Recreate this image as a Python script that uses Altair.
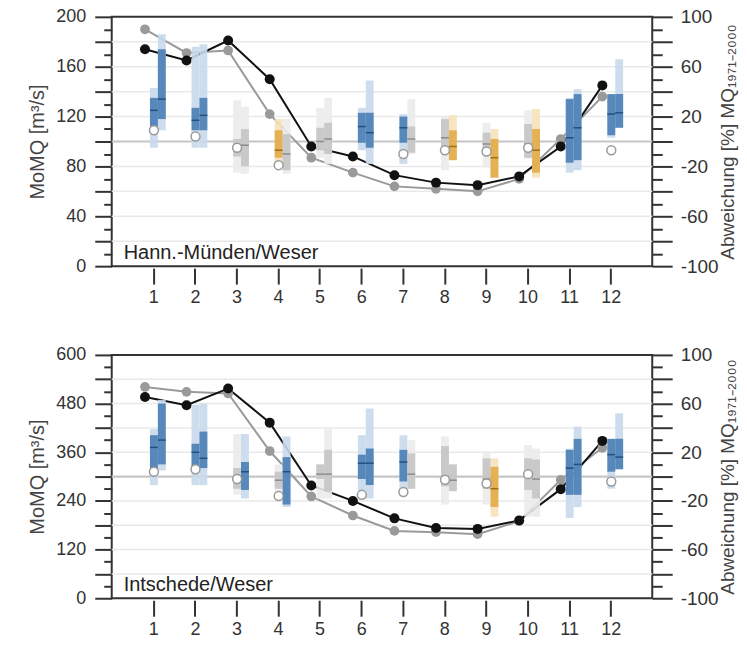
import altair as alt
import pandas as pd

months = list(range(1, 13))

# ---------- Hann.-Münden/Weser (MQ 1971-2000 = 100 m³/s)
hm_name = "Hann.-Münden/Weser"
hm_mq = 100
hm_ymax = 200
hm_step = 20
hm_black = [174, 165, 181, 150, 96, 88, 73, 67, 65, 72, 96, 145]
hm_gray = [190, 171, 173, 122, 87, 75, 64, 62, 60, 70, 102, 136]
hm_open = [109, 104, 95, 81, None, None, 90, 93, 92, 95, None, 93]
# boxes in % deviation: (low, q1, median, q3, high)
hm_left = [(-5, 12, 25, 35, 43), (-5, 9, 17, 27, 76), (-25, -12, -5, 2, 33),
           (-21, -13, -7, 9, 18), (-13, -7, 0, 11, 27), (-7, -1, 12, 23, 27),
           (-18, -1, 11, 20, 22), (-23, -5, 3, 18, 20), (-21, -10, -2, 7, 15),
           (-14, -13, -2, 14, 25), (-25, -17, 3, 34, 35), (3, 5, 22, 38, 38)]
hm_right = [(9, 18, 34, 74, 86), (-5, 9, 21, 35, 78), (-26, -20, -3, 10, 28),
            (-26, -23, -10, 6, 18), (-18, -10, 2, 15, 35), (-18, -5, 7, 23, 49),
            (-10, -9, 2, 12, 34), (-15, -15, -4, 9, 21), (-29, -29, -13, 2, 10),
            (-29, -25, -7, 10, 26), (-23, -15, 11, 38, 42), (11, 11, 23, 38, 66)]
hm_left_sig = ["up", "up", "ns", "down", "ns", "up", "up", "ns", "ns", "ns", "up", "up"]
hm_right_sig = ["up", "up", "ns", "ns", "ns", "up", "ns", "down", "down", "down", "up", "up"]

# ---------- Intschede/Weser (MQ 1971-2000 = 300 m³/s)
in_name = "Intschede/Weser"
in_mq = 300
in_ymax = 600
in_step = 60
in_black = [496, 476, 517, 433, 278, 240, 197, 173, 171, 192, 269, 388]
in_gray = [521, 509, 505, 363, 251, 204, 166, 163, 158, 190, 292, 371]
in_open = [312, 318, 294, 252, None, 255, 262, 292, 283, 306, None, 288]
in_left = [(-7, 2, 24, 34, 39), (-7, 8, 20, 27, 59), (-15, -10, -2, 7, 35),
           (-18, -10, -3, 4, 10), (-18, -2, 2, 10, 10), (-18, -2, 11, 18, 34),
           (-12, -4, 12, 22, 34), (-23, -8, 0, 25, 33), (-23, -10, -2, 15, 20),
           (-33, -11, 2, 15, 26), (-34, -15, 7, 22, 23), (-10, 4, 18, 31, 31)]
in_right = [(5, 10, 30, 60, 63), (-7, 7, 15, 37, 60), (-18, -11, 4, 12, 35),
            (-25, -23, 4, 16, 33), (-18, -12, 2, 22, 39), (-18, -7, 11, 23, 56),
            (-10, -10, 2, 19, 30), (-12, -12, -3, 10, 10), (-33, -25, -10, 8, 15),
            (-33, -18, -2, 14, 23), (-25, -15, 10, 31, 41), (6, 6, 16, 31, 52)]
in_left_sig = ["up", "up", "ns", "ns", "ns", "up", "up", "ns", "ns", "ns", "up", "up"]
in_right_sig = ["up", "up", "up", "up", "ns", "up", "ns", "ns", "down", "ns", "up", "up"]

light_c = {"up": "#c9d9eb", "down": "#f6e1b9", "ns": "#ebebeb"}
dark_c = {"up": "#4a7eb5", "down": "#e2ab48", "ns": "#c4c4c4"}
med_c = {"up": "#24507d", "down": "#9c6f1c", "ns": "#8c8c8c"}

FONT = "Liberation Sans"
W = 542


def panel(name, mq, ymax, step, black, gray, open_, left, right, lsig, rsig, h):
    xs = alt.Scale(domain=[0, 13], nice=False, zero=False)
    ys = alt.Scale(domain=[0, ymax], nice=False, zero=False)
    ps = alt.Scale(domain=[-100, 100], nice=False, zero=False)

    xaxis = alt.Axis(values=months, tickSize=16, offset=2, domain=False, grid=False,
                     tickColor="#333", tickWidth=2, labelFontSize=18, labelPadding=4,
                     labelColor="#333", labelFlush=False, title=None)

    left_axis = alt.Axis(
        values=list(range(0, ymax + 1, step // 2)),
        tickSize={"condition": {"test": f"datum.value % {step} === 0", "value": 17}, "value": 8},
        labelExpr=f"datum.value % {2 * step} === 0 ? datum.label : ''",
        domain=False, grid=False, tickColor="#333", tickWidth=2,
        labelPadding=9, labelFontSize=18, labelColor="#333",
        title="MoMQ [m³/s]", titleFontSize=20, titleFontWeight="normal",
        titleColor="#444", titlePadding=8, orient="left")

    right_axis = alt.Axis(
        values=list(range(-100, 101, 10)),
        tickSize={"condition": {"test": "datum.value % 20 === 0", "value": 20}, "value": 10},
        labelExpr="(datum.value + 100) % 40 === 0 ? toString(datum.value) : ''",
        domain=False, grid=False, tickColor="#333", tickWidth=2,
        labelPadding=8, labelFontSize=19, labelColor="#333",
        title="Abweichung [%] MQ₁₉₇₁₋₂₀₀₀", titleFontSize=19, titleFontWeight="normal",
        titleColor="#444", titlePadding=0, titleAngle=270, titleBaseline="top",
        orient="right")

    line_df = pd.DataFrame({
        "xp": [m - 0.2 for m in months],
        "xo": [m + 0.015 for m in months],
        "black": black, "gray": gray,
        "open": [float("nan") if v is None else v for v in open_],
    })

    rows = []
    for i, m in enumerate(months):
        for off, box, sig in ((0.0, left[i], lsig[i]), (0.19, right[i], rsig[i])):
            lo, q1, md, q3, hi = box
            rows.append({"x0": m - 0.08 + off, "x1": m + 0.11 + off,
                         "lo": lo, "q1": q1, "md": md, "q3": q3, "hi": hi,
                         "cl": light_c[sig], "cd": dark_c[sig], "cm": med_c[sig]})
    box_df = pd.DataFrame(rows)

    grid_vals = list(range(step, ymax, step))
    grid_df = pd.DataFrame({
        "v": grid_vals,
        "c": ["#c6c6c6" if v == mq else "#e9e9e9" for v in grid_vals],
        "w": [2.2 if v == mq else 1.5 for v in grid_vals],
    })

    X = lambda f: alt.X(f, scale=xs, axis=xaxis)

    grid = alt.Chart(grid_df).mark_rule().encode(
        y=alt.Y("v:Q", scale=ys, axis=left_axis),
        color=alt.Color("c:N", scale=None),
        strokeWidth=alt.StrokeWidth("w:Q", scale=None),
    )
    line_g = alt.Chart(line_df).mark_line(color="#9a9a9a", strokeWidth=2).encode(
        x=X("xp:Q"), y=alt.Y("gray:Q", scale=ys, axis=None))
    line_b = alt.Chart(line_df).mark_line(color="#111111", strokeWidth=2).encode(
        x=X("xp:Q"), y=alt.Y("black:Q", scale=ys, axis=None))
    dot_g = alt.Chart(line_df).mark_circle(color="#9a9a9a", opacity=1, size=95).encode(
        x=X("xp:Q"), y=alt.Y("gray:Q", scale=ys, axis=None))
    dot_b = alt.Chart(line_df).mark_circle(color="#111111", opacity=1, size=100).encode(
        x=X("xp:Q"), y=alt.Y("black:Q", scale=ys, axis=None))

    bar_light = alt.Chart(box_df).mark_rect(opacity=0.9).encode(
        x=X("x0:Q"), x2="x1:Q",
        y=alt.Y("lo:Q", scale=ps, axis=right_axis), y2="hi:Q",
        color=alt.Color("cl:N", scale=None))
    bar_dark = alt.Chart(box_df).mark_rect(opacity=0.9).encode(
        x=X("x0:Q"), x2="x1:Q",
        y=alt.Y("q1:Q", scale=ps, axis=None), y2="q3:Q",
        color=alt.Color("cd:N", scale=None))
    bar_med = alt.Chart(box_df).mark_rule(strokeWidth=1.5).encode(
        x=X("x0:Q"), x2="x1:Q",
        y=alt.Y("md:Q", scale=ps, axis=None),
        color=alt.Color("cm:N", scale=None))

    circ = alt.Chart(line_df).mark_point(shape="circle", filled=True, fill="white",
                                         stroke="#9a9a9a", strokeWidth=1.5,
                                         opacity=1, size=80).encode(
        x=X("xo:Q"), y=alt.Y("open:Q", scale=ys, axis=None))

    label = alt.Chart(pd.DataFrame({"t": [name]})).mark_text(
        align="left", baseline="bottom", fontSize=20, color="#222", font=FONT
    ).encode(text="t:N", x=alt.value(12), y=alt.value(h - 3))

    return alt.layer(grid, line_g, line_b, dot_g, dot_b, bar_light, bar_dark,
                     bar_med, circ, label).resolve_scale(y="independent").properties(
        width=W, height=h)


top = panel(hm_name, hm_mq, hm_ymax, hm_step, hm_black, hm_gray, hm_open,
            hm_left, hm_right, hm_left_sig, hm_right_sig, 250)
bottom = panel(in_name, in_mq, in_ymax, in_step, in_black, in_gray, in_open,
               in_left, in_right, in_left_sig, in_right_sig, 244)

chart = alt.vconcat(top, bottom, spacing=38).properties(
    padding={"left": 18, "top": -2, "right": 0, "bottom": -3}
).configure(
    font=FONT,
    view=alt.ViewConfig(stroke="#333333", strokeWidth=2),
)

chart.save("out.html", embed_options={"renderer": "svg", "actions": False})
